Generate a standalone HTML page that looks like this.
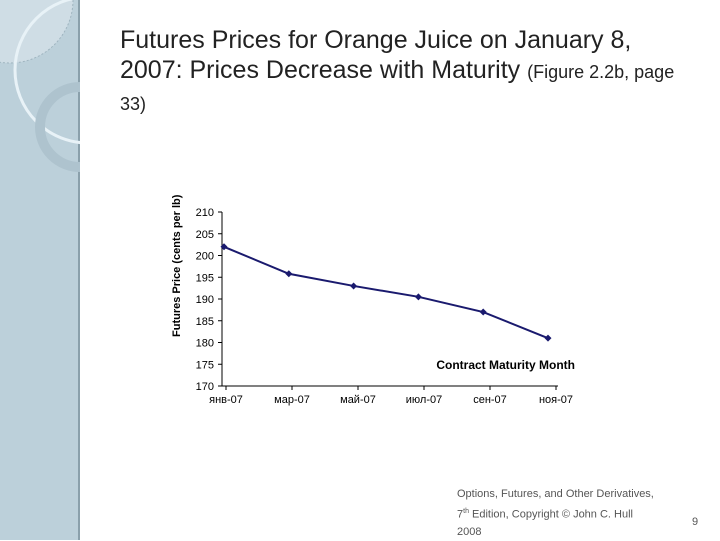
<!DOCTYPE html>
<html><head><meta charset="utf-8"><style>
body{margin:0;width:720px;height:540px;background:#fff;position:relative;overflow:hidden;font-family:"Liberation Sans",sans-serif}
.title{position:absolute;left:120px;top:25px;font-size:25px;line-height:30px;color:#222;width:600px;white-space:nowrap}
.title small{font-size:18px}
.foot{position:absolute;left:457px;top:486px;font-size:11px;line-height:17px;color:#555}
.pg{position:absolute;left:692px;top:516px;font-size:11px;color:#555}
</style></head><body>
<svg width="80" height="540" style="position:absolute;left:0;top:0">
<rect width="78" height="540" fill="#bcd0da"/>
<rect x="78" width="2" height="540" fill="#8aa0ab"/>
<circle cx="10" cy="0" r="63" fill="#cfdde5" stroke="#9fb4bf" stroke-dasharray="2,2"/>
<circle cx="88" cy="70" r="73" fill="none" stroke="#e8f2f7" stroke-width="3"/>
<circle cx="80" cy="127" r="40" fill="none" stroke="#aec3ce" stroke-width="10"/>
</svg>
<div class="title">Futures Prices for Orange Juice on January 8,<br>2007: Prices Decrease with Maturity <small>(Figure 2.2b, page</small><br><small>33)</small></div>
<svg id="c" width="720" height="540" style="position:absolute;left:0;top:0"></svg>
<div class="foot">Options, Futures, and Other Derivatives,<br>7<sup style="font-size:7px">th</sup> Edition, Copyright © John C. Hull<br>2008</div>
<div class="pg">9</div>
<script>
const categories=["янв-07","мар-07","май-07","июл-07","сен-07","ноя-07"];
const prices=[202,195.8,193,190.5,187,181];
const yTicks=[170,175,180,185,190,195,200,205,210];
const NS="http://www.w3.org/2000/svg",s=document.getElementById('c');
const y=v=>386-(v-170)*4.35, xp=i=>224+i*64.8, xt=i=>226+i*66;
function el(t,a,txt){const e=document.createElementNS(NS,t);for(const k in a)e.setAttribute(k,a[k]);if(txt!=null)e.textContent=txt;s.appendChild(e);return e;}
let e=el('line',{x1:222,y1:212,x2:222,y2:386,stroke:'#000'});

e=el('line',{x1:222,y1:386,x2:558,y2:386,stroke:'#000'});

yTicks.forEach(v=>{el('line',{x1:218,y1:y(v),x2:222,y2:y(v),stroke:'#000'});
 e=el('text',{x:214,y:y(v)+4,'text-anchor':'end','font-size':11,fill:'#000'},v);
 });
categories.forEach((c,i)=>{el('line',{x1:xt(i),y1:386,x2:xt(i),y2:390,stroke:'#000'});
 e=el('text',{x:xt(i),y:403,'text-anchor':'middle','font-size':11,fill:'#000'},c);
 });
e=el('polyline',{points:prices.map((v,i)=>xp(i)+','+y(v)).join(' '),fill:'none',stroke:'#1a1a6e','stroke-width':2});

prices.forEach((v,i)=>{e=el('path',{d:`M${xp(i)-3.5},${y(v)} L${xp(i)},${y(v)-3.5} L${xp(i)+3.5},${y(v)} L${xp(i)},${y(v)+3.5}Z`,fill:'#1a1a6e'});
 });
e=el('text',{x:575,y:369,'text-anchor':'end','font-size':12,'font-weight':'bold',fill:'#000'},'Contract Maturity Month');

e=el('text',{x:0,y:0,transform:'translate(180,337) rotate(-90)','font-size':11,'font-weight':'bold',fill:'#000'},'Futures Price (cents per lb)');

</script>
</body></html>
